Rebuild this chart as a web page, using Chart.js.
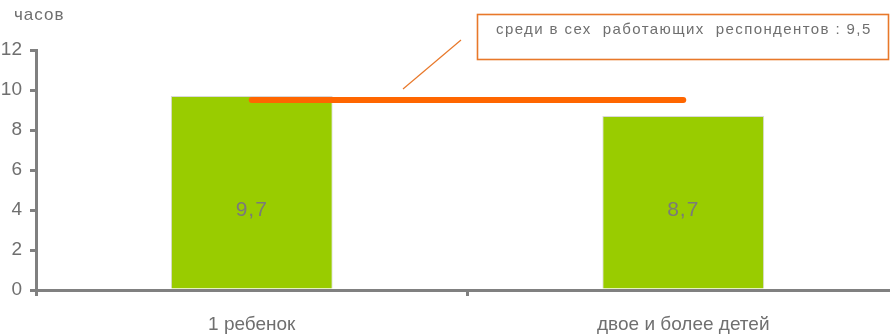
<!DOCTYPE html>
<html>
<head>
<meta charset="utf-8">
<script src="https://cdn.jsdelivr.net/npm/chart.js@4/dist/chart.umd.min.js"></script>
<style>
  html, body { margin: 0; padding: 0; background: #fff; overflow: hidden; }
  #wrap { width: 899px; height: 336px; position: relative; }
</style>
</head>
<body>
<div id="wrap"><canvas id="myChart"></canvas></div>
<script>
// data
const categories = ["1 ребенок", "двое и более детей"];
const hoursValues = [9.7, 8.7];
const averageAll = 9.5;
const valueLabels = ["9,7", "8,7"];
const yTicks = [0, 2, 4, 6, 8, 10, 12];
const unitLabel = "часов";
const calloutText = "среди в сех  работающих  респондентов : 9,5";

const grey = "#808080";
const textGrey = "#6f6f6f";

// labels inside bars, unit label and callout box
const extrasPlugin = {
    id: 'extras',
    afterDatasetsDraw(chart) {
        const ctx = chart.ctx;
        const meta = chart.getDatasetMeta(0);
        const yScale = chart.scales.y;
        ctx.save();
        ctx.fillStyle = "#7a7a7a";
        ctx.font = "21px 'Liberation Sans', Arial, sans-serif";
        ctx.letterSpacing = "1px";
        ctx.textAlign = "center";
        ctx.textBaseline = "middle";
        // both value labels sit at the same height, near the middle of the axis
        const yLabel = yScale.getPixelForValue(4);
        meta.data.forEach((bar, i) => {
            ctx.fillText(valueLabels[i], bar.x, yLabel);
        });

        // unit label above the y axis
        ctx.fillStyle = textGrey;
        ctx.font = "17px 'Liberation Sans', Arial, sans-serif";
        ctx.letterSpacing = "1px";
        ctx.textAlign = "left";
        ctx.fillText(unitLabel, 14, 15);

        // callout box with connector line
        const yAvg = yScale.getPixelForValue(averageAll);
        ctx.strokeStyle = "#e8782a";
        ctx.lineWidth = 1.2;
        ctx.beginPath();
        ctx.moveTo(403, yAvg - 11);
        ctx.lineTo(461, yAvg - 60);
        ctx.stroke();

        ctx.lineWidth = 1.6;
        ctx.strokeRect(477.5, 14.5, 411, 45);
        ctx.fillStyle = textGrey;
        ctx.font = "15px 'Liberation Sans', Arial, sans-serif";
        ctx.letterSpacing = "1.4px";
        ctx.fillText(calloutText, 496, 30);
        ctx.restore();
    }
};

const ctx = document.getElementById("myChart");
new Chart(ctx, {
    data: {
        labels: categories,
        datasets: [
            {
                type: 'bar',
                data: hoursValues,
                backgroundColor: "#99cc00",
                borderColor: "#d9d9d9",
                borderWidth: 1,
                borderSkipped: 'bottom',
                categoryPercentage: 0.75,
                barPercentage: 0.5,
                order: 2
            },
            {
                type: 'line',
                data: categories.map(() => averageAll),
                borderColor: "#ff6600",
                borderWidth: 6,
                borderCapStyle: 'round',
                pointRadius: 0,
                order: 1
            }
        ]
    },
    options: {
        responsive: true,
        maintainAspectRatio: false,
        animation: false,
        events: [],
        layout: {
            padding: { left: 0, right: 0, top: 50, bottom: 0 }
        },
        scales: {
            x: {
                offset: true,
                afterFit: (scale) => { scale.height = 46; },
                border: { display: true, color: grey, width: 3 },
                grid: {
                    offset: true,
                    drawOnChartArea: false,
                    drawTicks: true,
                    tickLength: 6,
                    color: grey,
                    lineWidth: 3
                },
                ticks: {
                    color: textGrey,
                    padding: 17,
                    font: { family: "'Liberation Sans', Arial, sans-serif", size: 19 },
                    maxRotation: 0
                }
            },
            y: {
                min: 0,
                max: 12,
                afterFit: (scale) => { scale.width = 36; },
                afterBuildTicks: (scale) => { scale.ticks = yTicks.map(v => ({ value: v })); },
                border: { display: true, color: grey, width: 3 },
                grid: {
                    drawOnChartArea: false,
                    drawTicks: true,
                    tickLength: 6,
                    color: grey,
                    lineWidth: 3
                },
                ticks: {
                    color: textGrey,
                    padding: 8,
                    font: { family: "'Liberation Sans', Arial, sans-serif", size: 19 }
                }
            }
        },
        plugins: {
            legend: { display: false },
            tooltip: { enabled: false }
        }
    },
    plugins: [extrasPlugin]
});
</script>
</body>
</html>
